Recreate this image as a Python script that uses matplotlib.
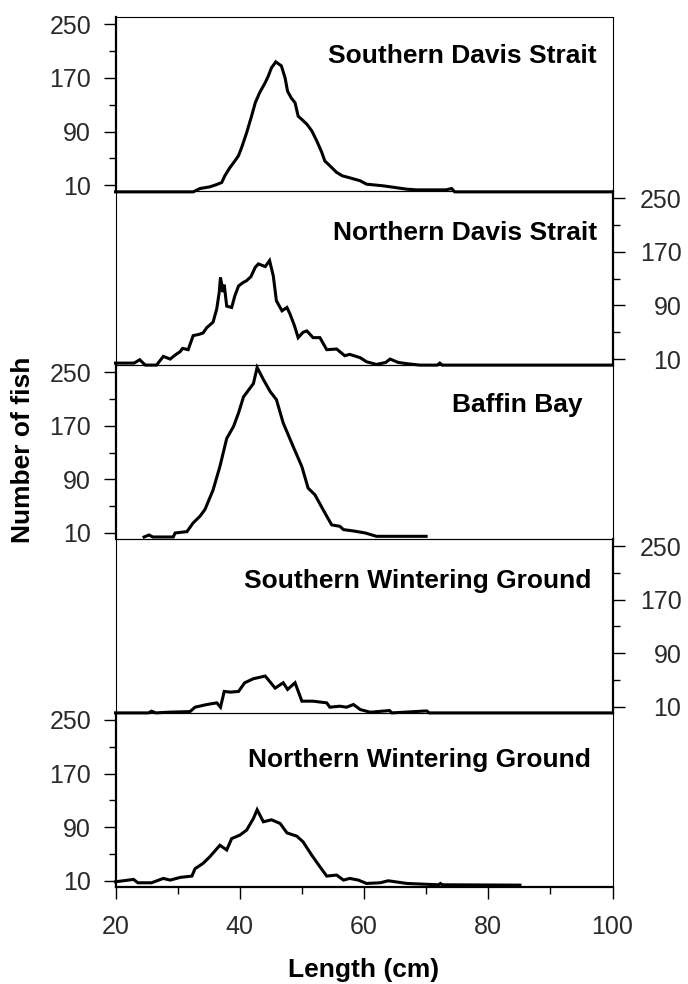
import matplotlib
matplotlib.use("Agg")
import matplotlib.pyplot as plt
from matplotlib.ticker import FixedLocator

plt.rcParams['font.family'] = ['Liberation Sans', 'DejaVu Sans']

# ---------------- data ----------------
panel_names = ["Southern Davis Strait", "Northern Davis Strait", "Baffin Bay",
               "Southern Wintering Ground", "Northern Wintering Ground"]

len_sds = [20, 32.5, 33.6, 35.2, 36.3, 37.1, 37.6, 38.4, 39.2, 39.8, 40.3, 41.1, 41.9, 42.5,
           43.2, 44.1, 44.6, 45.1, 45.8, 46.7, 47.3, 47.7, 48.3, 48.9, 49.4, 50.0, 50.8, 51.6,
           52.4, 53.2, 53.7, 54.5, 55.6, 56.5, 57.7, 59.4, 60.4, 63.1, 66.9, 68.5, 72.2, 73.2,
           74.1, 74.6, 100]
cnt_sds = [0, 0, 5, 7.5, 11, 14, 24, 36, 46, 54, 66, 88, 113, 133, 148, 163, 173, 185, 194,
           188, 170, 150, 140, 133, 113, 108, 101, 91, 76, 59, 46, 39, 29, 24, 21, 16.5, 11.5,
           9, 4, 3, 3, 3, 5, 0, 0]

len_nds = [20, 23, 23.9, 24.8, 26.6, 27.7, 28.8, 29.6, 30.4, 30.8, 31.7, 32.5, 33.5, 34.1,
           34.7, 35.7, 36.3, 36.7, 36.9, 37.3, 37.5, 37.9, 38.7, 39.2, 39.8, 40.5, 41.1, 41.8,
           42.5, 43.0, 44.1, 44.8, 45.4, 45.9, 46.8, 47.6, 48.1, 48.8, 49.4, 50.2, 50.8, 51.8,
           52.9, 54.0, 55.6, 56.9, 57.7, 59.4, 60.4, 62.0, 63.5, 64.2, 65.5, 67, 69, 71.8, 72.2,
           72.6, 100]
cnt_nds = [4, 4, 9, 1, 1, 14, 10, 16, 21, 26, 24, 45, 47, 49, 57, 65, 85, 110, 132, 110, 121,
           89, 87, 104, 119, 124, 127, 133, 147, 152, 148, 157, 134, 97, 82, 87, 77, 60, 42,
           50, 52, 42, 42, 24, 25, 15, 17, 12, 6, 2, 5, 10, 5, 3, 1, 1, 4, 1, 1]

len_bb = [24.6, 25.4, 26.0, 29.3, 29.6, 31.5, 32.5, 33.6, 34.4, 35.7, 36.8, 37.9, 39.0, 39.8,
          40.6, 41.4, 42.2, 42.8, 43.8, 44.9, 45.9, 47.0, 48.6, 50.0, 51.0, 52.1, 53.4, 54.8,
          56.1, 56.7, 58.3, 60.2, 62.0, 70.0]
cnt_bb = [4, 7, 4, 4, 10, 12, 25, 35, 45, 74, 109, 151, 169, 189, 213, 223, 233, 257, 239,
          221, 209, 174, 139, 109, 77, 67, 45, 22, 20, 15, 13, 10, 5, 5]

len_swg = [20, 25.3, 25.8, 26.5, 28.4, 32.0, 32.8, 34.7, 36.3, 36.9, 37.5, 38.5, 39.8, 40.8,
           42.2, 44.1, 45.7, 47.0, 47.7, 48.9, 50.0, 51.8, 54.0, 54.5, 56.1, 57.2, 58.3, 59.4,
           61.0, 64.1, 64.5, 70.1, 70.5, 100]
cnt_swg = [1, 1, 3.5, 1, 2, 3, 9.5, 13.5, 16, 9.5, 33, 32, 33, 46, 52, 56, 38, 46, 36, 46,
           18.5, 18.5, 16, 9.5, 11, 9.5, 13.5, 6, 2, 4.5, 1, 4, 1, 1]

len_nwg = [20, 22.9, 23.6, 25.8, 27.7, 28.8, 30.4, 32.3, 32.8, 34.1, 35.2, 36.8, 37.9, 38.7,
           40.0, 41.1, 42.2, 42.8, 43.8, 45.1, 46.5, 47.6, 49.2, 50.2, 51.6, 52.9, 54.0, 55.6,
           56.7, 57.7, 59.1, 60.4, 62.6, 63.9, 66.9, 72.0, 72.3, 72.6, 85.1]
cnt_nwg = [8.5, 12, 7, 7, 13.5, 11, 15, 17, 28, 36, 46, 63, 56, 73, 78, 85.5, 103, 116, 98,
           101, 95.5, 81.5, 76.5, 68, 48, 31, 17, 18.5, 11, 13.5, 11, 6, 7, 10, 6, 4, 6, 4, 3.5]

lengths = [len_sds, len_nds, len_bb, len_swg, len_nwg]
counts = [cnt_sds, cnt_nds, cnt_bb, cnt_swg, cnt_nwg]

y_major = [10, 90, 170, 250]
y_minor = [50, 130, 210]
x_major = [20, 40, 60, 80, 100]
x_minor = [30, 50, 70, 90]
x_labels = ["20", "40", "60", "80", "100"]
y_labels = ["10", "90", "170", "250"]

# ---------------- layout ----------------
W, H = 688, 984
fig = plt.figure(figsize=(W / 100, H / 100), dpi=100)
left_px, right_px = 115.5, 612.5
top_px, panel_h = 17.3, 173.9
label_right = [597, 597, 583, 591, 591]
label_base = [63, 240, 412, 588, 767]

tick_col = '#2a2a2a'
for i in range(5):
    t = top_px + i * panel_h
    ax = fig.add_axes([left_px / W, 1 - (t + panel_h) / H, (right_px - left_px) / W, panel_h / H])
    ax.set_facecolor('none')
    ax.plot(lengths[i], counts[i], color='black', lw=2.2, clip_on=False,
            solid_joinstyle='miter', zorder=3)
    ax.set_xlim(20, 100)
    ax.set_ylim(1, 260.5)
    ax.yaxis.set_major_locator(FixedLocator(y_major))
    ax.yaxis.set_minor_locator(FixedLocator(y_minor))
    ax.set_yticklabels(y_labels)
    right_side = (i % 2 == 1)
    for s in ax.spines.values():
        s.set_linewidth(0.8)
        s.set_color('black')
    if right_side:
        ax.yaxis.tick_right()
        ax.spines['right'].set_linewidth(1.6)
        ax.tick_params(axis='y', which='major', direction='out', length=8.6, width=1.0,
                       labelsize=18, labelcolor=tick_col, pad=41)
        for lab in ax.get_yticklabels():
            lab.set_horizontalalignment('right')
    else:
        ax.yaxis.tick_left()
        ax.spines['left'].set_linewidth(1.6)
        ax.tick_params(axis='y', which='major', direction='out', length=8.6, width=1.0,
                       labelsize=18, labelcolor=tick_col, pad=9)
    ax.tick_params(axis='y', which='minor', direction='out', length=5, width=1.0)
    if i == 4:
        ax.xaxis.set_major_locator(FixedLocator(x_major))
        ax.xaxis.set_minor_locator(FixedLocator(x_minor))
        ax.set_xticklabels(x_labels)
        ax.spines['bottom'].set_linewidth(1.6)
        ax.tick_params(axis='x', which='major', direction='out', length=8.6, width=1.0,
                       labelsize=18, labelcolor=tick_col, pad=12)
        ax.tick_params(axis='x', which='minor', direction='out', length=5, width=1.0)
    else:
        ax.set_xticks([])
    fig.text(label_right[i] / W, 1 - label_base[i] / H, panel_names[i], ha='right',
             va='baseline', fontsize=19, fontweight='bold')

fig.text(364 / W, 1 - 970 / H, "Length (cm)", ha='center', va='center',
         fontsize=19, fontweight='bold')
fig.text(23 / W, 1 - 450 / H, "Number of fish", ha='center', va='center',
         rotation=90, fontsize=19, fontweight='bold')

fig.savefig("out.png", dpi=100, facecolor='white')
